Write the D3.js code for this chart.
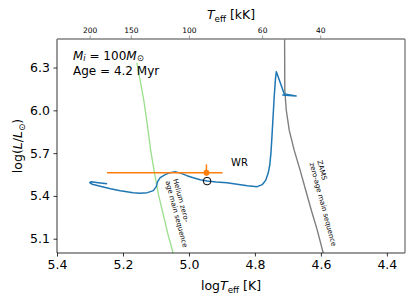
<!DOCTYPE html>
<html>
<head>
<meta charset="utf-8">
<script src="https://cdn.jsdelivr.net/npm/d3@7"></script>
<style>
  body { margin: 0; background: #fff; }
  svg text { font-family: "DejaVu Sans", sans-serif; }
</style>
</head>
<body>
<svg id="chart" width="415" height="299"></svg>
<script>
// evolutionary track (log Teff, log L)
const trackLogT = [4.717, 4.675, 4.711, 4.735, 4.7376, 4.7415, 4.7455, 4.749, 4.7515, 4.755, 4.7597, 4.767,
  4.778, 4.793, 4.823, 4.854, 4.885, 4.917, 4.945, 4.966, 4.987, 5.006, 5.026, 5.042, 5.057, 5.072, 5.087,
  5.095, 5.099, 5.108, 5.126, 5.148, 5.169, 5.208, 5.238, 5.269, 5.293, 5.301, 5.296, 5.275, 5.248];
const trackLogL = [6.107, 6.100, 6.114, 6.271, 6.224, 6.095, 5.932, 5.791, 5.700, 5.616, 5.560, 5.511,
  5.479, 5.465, 5.472, 5.482, 5.492, 5.497, 5.504, 5.514, 5.528, 5.542, 5.560, 5.569, 5.563, 5.549, 5.528,
  5.500, 5.465, 5.437, 5.423, 5.419, 5.423, 5.437, 5.451, 5.468, 5.482, 5.493, 5.500, 5.493, 5.485];

// hydrogen ZAMS
const zamsLogT = [4.710, 4.7094, 4.705, 4.696, 4.681, 4.663, 4.646, 4.629, 4.611, 4.593];
const zamsLogL = [6.5, 6.142, 6.002, 5.861, 5.721, 5.581, 5.440, 5.300, 5.160, 5.0];

// helium ZAMS
const heZamsLogT = [5.158, 5.148, 5.137, 5.126, 5.117, 5.105, 5.092, 5.076, 5.063, 5.048];
const heZamsLogL = [6.332, 6.212, 6.072, 5.896, 5.735, 5.567, 5.405, 5.251, 5.125, 5.0];

// observed WR star with errors
const wrLogT = 4.947, wrLogTHot = 5.2485, wrLogTCool = 4.898;
const wrLogL = 5.562, wrLogLHi = 5.621, wrLogLLo = 5.541;

// model at current age
const modelLogT = 4.945, modelLogL = 5.504;

const xTicks = [5.4, 5.2, 5.0, 4.8, 4.6, 4.4];
const yTicks = [5.1, 5.4, 5.7, 6.0, 6.3];
const topTicksKK = [200, 150, 100, 60, 40];

const mLeft = 57, mRight = 405, mTop = 39, mBottom = 253;
const svg = d3.select("#chart");

const x = d3.scaleLinear().domain([5.4, 4.345]).range([mLeft, mRight]);
const y = d3.scaleLinear().domain([5.0, 6.5]).range([mBottom, mTop]);

svg.append("defs").append("clipPath").attr("id", "clip")
  .append("rect").attr("x", mLeft).attr("y", mTop).attr("width", mRight - mLeft).attr("height", mBottom - mTop);

const plot = svg.append("g").attr("clip-path", "url(#clip)");

const line = (xs, ys) => d3.line().x((d, i) => x(xs[i])).y((d, i) => y(ys[i]))(xs);

plot.append("path").attr("d", line(heZamsLogT, heZamsLogL))
  .attr("fill", "none").attr("stroke", "#98df8a").attr("stroke-width", 1.3);
plot.append("path").attr("d", line(zamsLogT, zamsLogL))
  .attr("fill", "none").attr("stroke", "#7f7f7f").attr("stroke-width", 1.4);
plot.append("path").attr("d", line(trackLogT, trackLogL))
  .attr("fill", "none").attr("stroke", "#1f77b4").attr("stroke-width", 1.5)
  .attr("stroke-linejoin", "round");

// error bars
plot.append("line").attr("x1", x(wrLogTHot)).attr("x2", x(wrLogTCool))
  .attr("y1", y(wrLogL)).attr("y2", y(wrLogL)).attr("stroke", "#ff7f0e").attr("stroke-width", 1.5);
plot.append("line").attr("x1", x(wrLogT)).attr("x2", x(wrLogT))
  .attr("y1", y(wrLogLHi)).attr("y2", y(wrLogLLo)).attr("stroke", "#ff7f0e").attr("stroke-width", 1.5);
plot.append("circle").attr("cx", x(wrLogT)).attr("cy", y(wrLogL)).attr("r", 3).attr("fill", "#ff7f0e");

plot.append("circle").attr("cx", x(modelLogT)).attr("cy", y(modelLogL)).attr("r", 3.8)
  .attr("fill", "none").attr("stroke", "#000").attr("stroke-width", 1);

// axes
const fmt = d3.format(".1f");
const gx = svg.append("g").attr("transform", `translate(0,${mBottom})`)
  .call(d3.axisBottom(x).tickValues(xTicks).tickFormat(fmt).tickSize(3.5).tickPadding(3.5));
const gy = svg.append("g").attr("transform", `translate(${mLeft},0)`)
  .call(d3.axisLeft(y).tickValues(yTicks).tickFormat(fmt).tickSize(3.5).tickPadding(3.5));
[gx, gy].forEach(g => {
  g.select(".domain").remove();
  g.selectAll("text").attr("font-size", 12.5).attr("fill", "#000");
  g.selectAll("line").attr("stroke", "#000").attr("stroke-width", 0.8);
});

const gt = svg.append("g").attr("transform", `translate(0,${mTop})`)
  .call(d3.axisTop(x).tickValues(topTicksKK.map(t => Math.log10(t * 1000)))
    .tickFormat((d, i) => topTicksKK[i]).tickSize(3.5).tickPadding(2.5));
gt.select(".domain").remove();
gt.selectAll("text").attr("font-size", 7.5).attr("fill", "#000");
gt.selectAll("line").attr("stroke", "#808080").attr("stroke-width", 0.8);

// spines
svg.append("line").attr("x1", mLeft).attr("x2", mLeft).attr("y1", mTop).attr("y2", mBottom)
  .attr("stroke", "#000").attr("stroke-width", 0.8);
svg.append("line").attr("x1", mLeft).attr("x2", mRight).attr("y1", mBottom).attr("y2", mBottom)
  .attr("stroke", "#000").attr("stroke-width", 0.8);
svg.append("line").attr("x1", mLeft).attr("x2", mRight).attr("y1", mTop).attr("y2", mTop)
  .attr("stroke", "#808080").attr("stroke-width", 1.4);
svg.append("line").attr("x1", mRight).attr("x2", mRight).attr("y1", mTop).attr("y2", mBottom)
  .attr("stroke", "#808080").attr("stroke-width", 1.4);

// rich text helper: parts = [text, italic?, sub?]
function rich(sel, parts, size, shift = 0.22) {
  parts.forEach(([t, it, sub], i) => {
    const prevSub = i > 0 && parts[i - 1][2];
    const ts = sel.append("tspan").text(t)
      .attr("font-size", sub ? size * 0.7 : size)
      .attr("font-style", it ? "italic" : "normal");
    if (sub && !prevSub) ts.attr("dy", size * shift);
    if (!sub && prevSub) ts.attr("dy", -size * shift);
  });
  return sel;
}

rich(svg.append("text").attr("x", (mLeft + mRight) / 2).attr("y", 290).attr("text-anchor", "middle"),
  [["log", false, false], ["T", true, false], ["eff", false, true], [" [K]", false, false]], 12.5);
rich(svg.append("text").attr("x", (mLeft + mRight) / 2).attr("y", 19).attr("text-anchor", "middle"),
  [["T", true, false], ["eff", false, true], [" [kK]", false, false]], 12.5);
rich(svg.append("text").attr("transform", `translate(22,${(mTop + mBottom) / 2}) rotate(-90)`)
  .attr("text-anchor", "middle"),
  [["log(", false, false], ["L", true, false], ["/", false, false], ["L", true, false], ["⊙", false, true], [")", false, false]], 12.5);

// annotations
rich(svg.append("text").attr("x", 73).attr("y", 59.5),
  [["M", true, false], ["i", true, true], [" = 100", false, false], ["M", true, false], ["⊙", false, true]], 12, 0.12);
svg.append("text").attr("x", 73).attr("y", 75).attr("font-size", 12).text("Age = 4.2 Myr");
svg.append("text").attr("x", 231).attr("y", 166).attr("font-size", 10).text("WR");

function rotLabel(lx, ly, lines, angle) {
  const t = svg.append("text").attr("transform", `translate(${x(lx)},${y(ly)}) rotate(${angle})`)
    .attr("font-size", 7);
  lines.forEach((s, i) => t.append("tspan").attr("x", 0).attr("dy", i ? 8 : 0).text(s));
}
rotLabel(5.048, 5.515, ["Helium zero-", "age main sequence"], 75);
rotLabel(4.611, 5.644, ["ZAMS", "zero-age main sequence"], 75);
</script>
</body>
</html>
